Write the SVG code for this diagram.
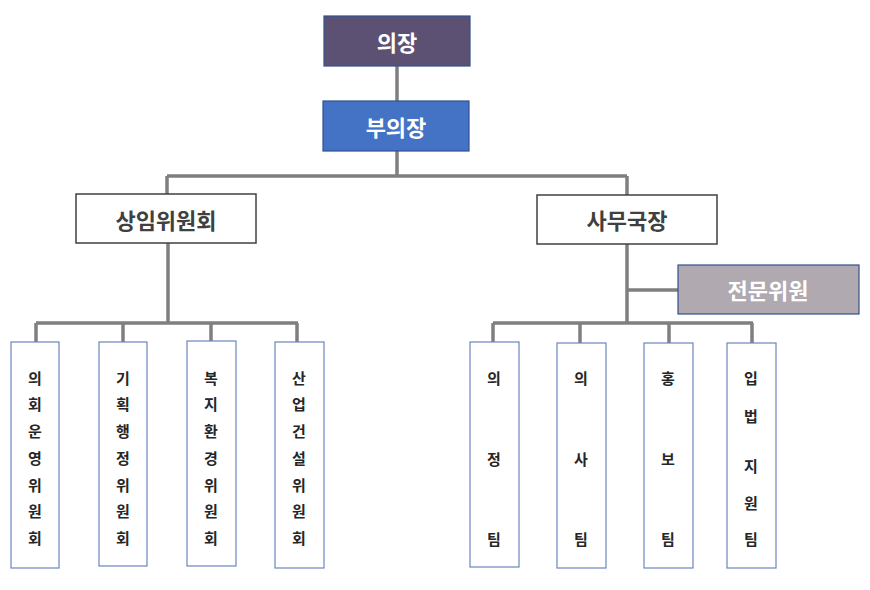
<svg xmlns="http://www.w3.org/2000/svg" width="870" height="590" viewBox="0 0 870 590">
<style>
.t{font-family:"Malgun Gothic","Noto Sans CJK KR","Noto Sans",sans-serif;font-weight:bold;text-anchor:middle;dominant-baseline:central}
.hd{font-size:22px;fill:#ffffff}
.mid{font-size:22px;fill:#404040}
.v{font-size:15px;fill:#262626}
.dark{stroke:#2f528f;stroke-width:1.2}
.wb{fill:#ffffff;stroke:#404040;stroke-width:1.5}
.vb{fill:#ffffff;stroke:#6a86c0;stroke-width:1.2}
.c{fill:none;stroke:#7f7f7f;stroke-width:3.5}
</style>
<rect width="870" height="590" fill="#ffffff"/>
<g id="connectors">
<path class="c" d="M397 66V101M397 151V176M167 176H627M167 176V194M627 176V195"/>
<path class="c" d="M168 243V323M36 323H298M36 323V342M123 323V342M211 323V342M297 323V342"/>
<path class="c" d="M627 244V323M627 290H678M493 323H753M493 323V342M580 323V343M669 323V343M752 323V343"/>
</g>
<g id="n-chair"><rect class="dark" x="324" y="16" width="146" height="50" fill="#5c5173"/><text class="t hd" x="397" y="41">의장</text></g>
<g id="n-vice"><rect class="dark" x="323" y="101" width="146" height="50" fill="#4472c4"/><text class="t hd" x="396" y="126">부의장</text></g>
<g id="n-standing"><rect class="wb" x="76" y="194" width="180" height="49"/><text class="t mid" x="166" y="219">상임위원회</text></g>
<g id="n-secretary"><rect class="wb" x="537" y="195" width="180" height="49"/><text class="t mid" x="627" y="219">사무국장</text></g>
<g id="n-expert"><rect class="dark" x="678" y="265" width="181" height="49" fill="#b0a9af"/><text class="t hd" x="768" y="289">전문위원</text></g>
<g id="n-c1"><rect class="vb" x="11" y="342" width="48" height="226"/>
<text class="t v" x="35"><tspan x="35" y="377">의</tspan><tspan x="35" y="403">회</tspan><tspan x="35" y="430">운</tspan><tspan x="35" y="457">영</tspan><tspan x="35" y="484">위</tspan><tspan x="35" y="510">원</tspan><tspan x="35" y="537">회</tspan></text></g>
<g id="n-c2"><rect class="vb" x="99" y="342" width="48" height="224"/>
<text class="t v" x="123"><tspan x="123" y="377">기</tspan><tspan x="123" y="403">획</tspan><tspan x="123" y="430">행</tspan><tspan x="123" y="457">정</tspan><tspan x="123" y="484">위</tspan><tspan x="123" y="510">원</tspan><tspan x="123" y="537">회</tspan></text></g>
<g id="n-c3"><rect class="vb" x="187" y="341" width="49" height="225"/>
<text class="t v" x="211"><tspan x="211" y="377">복</tspan><tspan x="211" y="403">지</tspan><tspan x="211" y="430">환</tspan><tspan x="211" y="457">경</tspan><tspan x="211" y="484">위</tspan><tspan x="211" y="510">원</tspan><tspan x="211" y="537">회</tspan></text></g>
<g id="n-c4"><rect class="vb" x="275" y="342" width="49" height="226"/>
<text class="t v" x="299"><tspan x="299" y="377">산</tspan><tspan x="299" y="403">업</tspan><tspan x="299" y="430">건</tspan><tspan x="299" y="457">설</tspan><tspan x="299" y="484">위</tspan><tspan x="299" y="510">원</tspan><tspan x="299" y="537">회</tspan></text></g>
<g id="n-t1"><rect class="vb" x="470" y="342" width="49" height="225"/>
<text class="t v" x="494"><tspan x="494" y="377">의</tspan><tspan x="494" y="458">정</tspan><tspan x="494" y="538">팀</tspan></text></g>
<g id="n-t2"><rect class="vb" x="557" y="343" width="49" height="225"/>
<text class="t v" x="581"><tspan x="581" y="377">의</tspan><tspan x="581" y="458">사</tspan><tspan x="581" y="538">팀</tspan></text></g>
<g id="n-t3"><rect class="vb" x="644" y="343" width="49" height="225"/>
<text class="t v" x="668"><tspan x="668" y="377">홍</tspan><tspan x="668" y="458">보</tspan><tspan x="668" y="538">팀</tspan></text></g>
<g id="n-t4"><rect class="vb" x="727" y="343" width="49" height="225"/>
<text class="t v" x="751"><tspan x="751" y="377">입</tspan><tspan x="751" y="415">법</tspan><tspan x="751" y="465">지</tspan><tspan x="751" y="502">원</tspan><tspan x="751" y="538">팀</tspan></text></g>
</svg>
